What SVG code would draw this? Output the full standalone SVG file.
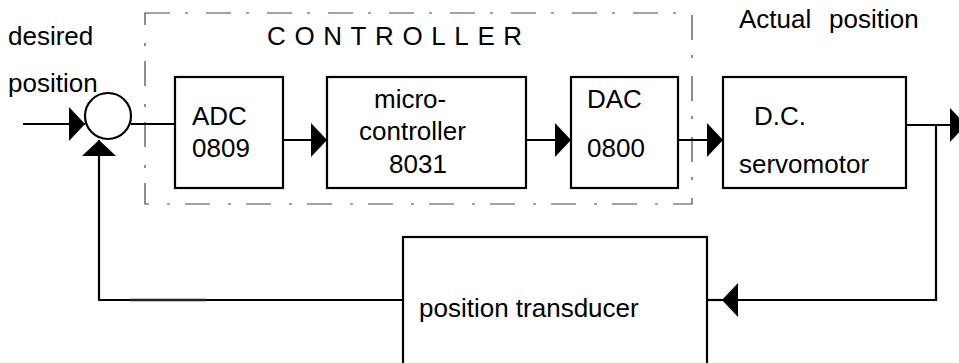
<svg xmlns="http://www.w3.org/2000/svg" width="959" height="363" viewBox="0 0 959 363">
  <defs>
    <style>
      text { font-family: "Liberation Sans", Arial, sans-serif; font-size: 26px; fill: #000; }
      .box { fill: #fff; stroke: #000; stroke-width: 2.2; }
      .wire { fill: none; stroke: #000; stroke-width: 2.2; }
      .frame { fill: none; stroke: #444; stroke-width: 1.2; stroke-dasharray: 25 15 3 18; }
    </style>
    <marker id="arrow" viewBox="0 0 16 34" markerWidth="16" markerHeight="34" refX="16" refY="17" orient="auto" markerUnits="userSpaceOnUse">
      <path d="M0,0 L16,17 L0,34 Z" fill="#000"/>
    </marker>
  </defs>

  <!-- controller boundary -->
  <g id="controller">
    <rect class="frame" x="145" y="13" width="547" height="191"/>
    <text x="267" y="45" font-size="25" letter-spacing="8.6">CONTROLLER</text>
  </g>

  <!-- free labels -->
  <g id="labels">
    <text x="8" y="45">desired</text>
    <text x="8" y="92">position</text>
    <text x="739" y="28">Actual</text>
    <text x="829" y="28">position</text>
  </g>

  <!-- connectors -->
  <g id="connectors">
    <line class="wire" x1="23" y1="124" x2="85" y2="124" marker-end="url(#arrow)"/>
    <line class="wire" x1="131" y1="124" x2="175" y2="124"/>
    <line class="wire" x1="283" y1="140" x2="327" y2="140" marker-end="url(#arrow)"/>
    <line class="wire" x1="526" y1="140" x2="571" y2="140" marker-end="url(#arrow)"/>
    <line class="wire" x1="678" y1="140" x2="723" y2="140" marker-end="url(#arrow)"/>
    <line class="wire" x1="906" y1="125" x2="966" y2="125" marker-end="url(#arrow)"/>
    <path class="wire" d="M936,125 V300 H722" marker-end="url(#arrow)"/>
    <line class="wire" x1="722" y1="300" x2="707" y2="300"/>
    <path class="wire" d="M403,300 H99 V140" marker-end="url(#arrow)"/>
    <line x1="130" y1="300" x2="206" y2="300" stroke="#222" stroke-width="2.6"/>
  </g>

  <!-- summing junction -->
  <g id="sum">
    <circle cx="108" cy="116" r="23" fill="#fff" stroke="#000" stroke-width="2.2"/>
  </g>

  <g id="adc">
    <rect class="box" x="175" y="77" width="108" height="111"/>
    <text x="192" y="125">ADC</text>
    <text x="192" y="157">0809</text>
  </g>

  <g id="micro">
    <rect class="box" x="327" y="77" width="199" height="111"/>
    <text x="374" y="108">micro-</text>
    <text x="359" y="140">controller</text>
    <text x="389" y="173">8031</text>
  </g>

  <g id="dac">
    <rect class="box" x="571" y="77" width="107" height="111"/>
    <text x="587" y="108">DAC</text>
    <text x="587" y="157">0800</text>
  </g>

  <g id="servomotor">
    <rect class="box" x="723" y="77" width="183" height="111"/>
    <text x="754" y="125">D.C.</text>
    <text x="739" y="173">servomotor</text>
  </g>

  <g id="transducer">
    <rect class="box" x="403" y="237" width="304" height="140"/>
    <text x="419" y="317">position transducer</text>
  </g>
</svg>
